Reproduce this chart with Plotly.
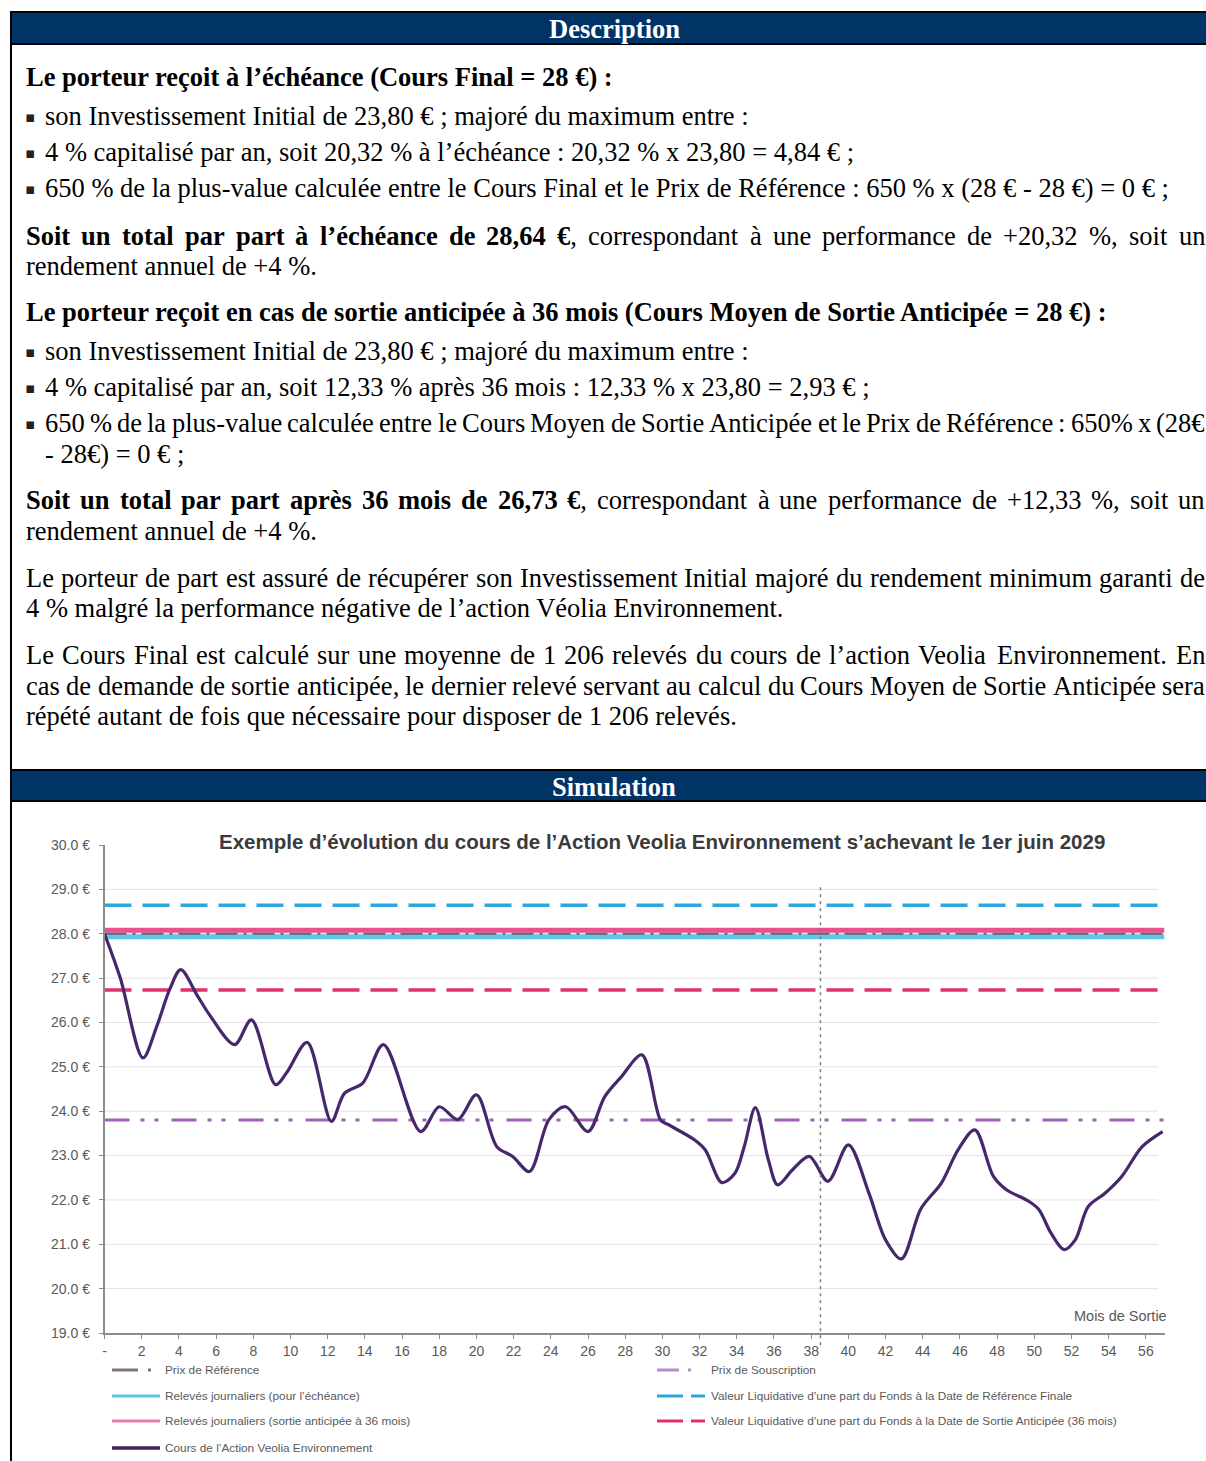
import unicodedata
import plotly.graph_objects as go

W, H = 1206, 1461

# ------------------------------------------------------------------ chart data
months = [0, 0.85, 2.07, 2.8, 3.5, 4.1, 5.0, 5.7, 7.0, 7.9, 9.2, 9.8, 10.9, 12.2,
          12.9, 13.9, 15.0, 17.0, 18.0, 19.0, 20.0, 21.1, 21.95, 22.85, 23.9, 24.8,
          26.0, 26.9, 27.8, 28.9, 29.9, 30.3, 31.7, 32.3, 33.2, 33.9, 34.4, 35.0,
          35.7, 36.2, 37.0, 37.9, 38.9, 40.0, 41.1, 42.0, 42.85, 43.9, 45.0, 45.9,
          46.8, 47.8, 48.5, 49.7, 50.25, 50.9, 51.6, 52.2, 52.9, 53.8, 54.7, 55.8, 56.9]
price = [28.0, 27.0, 25.2, 25.9, 26.74, 27.19, 26.6, 26.14, 25.5, 26.06, 24.6, 24.87,
         25.55, 23.77, 24.4, 24.64, 25.5, 23.54, 24.1, 23.81, 24.37, 23.2, 22.98, 22.64,
         23.81, 24.1, 23.54, 24.33, 24.78, 25.27, 23.8, 23.7, 23.36, 23.13, 22.39, 22.6,
         23.2, 24.08, 22.9, 22.34, 22.68, 22.98, 22.42, 23.24, 22.16, 21.1, 20.67, 21.8,
         22.38, 23.13, 23.58, 22.53, 22.23, 21.97, 21.78, 21.25, 20.88, 21.1, 21.85,
         22.15, 22.53, 23.2, 23.54]

level_months = [0, 57]
prix_reference = 28.0
releves_echeance = 27.93
releves_sortie = 28.08
prix_souscription = 23.80
vl_finale = 28.64
vl_sortie = 26.73
exit_month = 38.5
exit_line_top = 29.1

x_tickvals = list(range(0, 57, 2))
x_ticktext = ["-"] + [str(m) for m in range(2, 57, 2)]
y_tickvals = list(range(19, 31))
y_ticktext = [f"{v}.0 €" for v in range(19, 31)]
grid_vals = list(range(20, 30))

chart_title = "Exemple d’évolution du cours de l’Action Veolia Environnement s’achevant le 1er juin 2029"

# ------------------------------------------------------------------ document text
desc_lines = [
    (77, 25, [("Le porteur reçoit à l’échéance (Cours Final = 28 €) :", True)], False),
    (116, 44, [("son Investissement Initial de 23,80 € ; majoré du maximum entre :", False)], False),
    (152, 44, [("4 % capitalisé par an, soit 20,32 % à l’échéance : 20,32 % x 23,80 = 4,84 € ;", False)], False),
    (188, 44, [("650 % de la plus-value calculée entre le Cours Final et le Prix de Référence : 650 % x (28 € - 28 €) = 0 € ;", False)], False),
    (236, 25, [("Soit un total par part à l’échéance de 28,64 €", True),
               (", correspondant à une performance de +20,32 %, soit un", False)], True),
    (266, 25, [("rendement annuel de +4 %.", False)], False),
    (312, 25, [("Le porteur reçoit en cas de sortie anticipée à 36 mois (Cours Moyen de Sortie Anticipée = 28 €) :", True)], False),
    (351, 44, [("son Investissement Initial de 23,80 € ; majoré du maximum entre :", False)], False),
    (387, 44, [("4 % capitalisé par an, soit 12,33 % après 36 mois : 12,33 % x 23,80 = 2,93 € ;", False)], False),
    (423, 44, [("650 % de la plus-value calculée entre le Cours Moyen de Sortie Anticipée et le Prix de Référence : 650% x (28€", False)], True),
    (454, 44, [("- 28€) = 0 € ;", False)], False),
    (500, 25, [("Soit un total par part après 36 mois de 26,73 €", True),
               (", correspondant à une performance de +12,33 %, soit un", False)], True),
    (531, 25, [("rendement annuel de +4 %.", False)], False),
    (578, 25, [("Le porteur de part est assuré de récupérer son Investissement Initial majoré du rendement minimum garanti de", False)], True),
    (608, 25, [("4 % malgré la performance négative de l’action Véolia Environnement.", False)], False),
    (655, 25, [("Le Cours Final est calculé sur une moyenne de 1 206 relevés du cours de l’action Veolia Environnement. En", False)], True),
    (686, 25, [("cas de demande de sortie anticipée, le dernier relevé servant au calcul du Cours Moyen de Sortie Anticipée sera", False)], True),
    (716, 25, [("répété autant de fois que nécessaire pour disposer de 1 206 relevés.", False)], False),
]
bullet_ys = [116, 152, 188, 351, 387, 423]

legend_items = [
    # label, color, width, dash, column, row
    ("Prix de Référence", "#85746E", 3, "26px,10px,3px,40px", 0, 0),
    ("Relevés journaliers (pour l’échéance)", "#5BC6E2", 3, "solid", 0, 1),
    ("Relevés journaliers (sortie anticipée à 36 mois)", "#EA7FAE", 3, "solid", 0, 2),
    ("Cours de l’Action Veolia Environnement", "#3F2262", 3.5, "solid", 0, 3),
    ("Prix de Souscription", "#B58CC6", 3, "22px,9px,3px,40px", 1, 0),
    ("Valeur Liquidative d’une part du Fonds à la Date de Référence Finale", "#2AA5DD", 3, "26px,8px", 1, 1),
    ("Valeur Liquidative d’une part du Fonds à la Date de Sortie Anticipée (36 mois)", "#E0306F", 3, "26px,8px", 1, 2),
]

# ------------------------------------------------------------------ helpers
def X(px):
    return px / W


def Y(py):
    return 1 - py / H


_R = {' ': 250, '%': 833, '(': 333, ')': 333, '+': 564, ',': 250, '-': 333, '.': 250,
      ':': 278, ';': 278, '=': 564, '€': 500, '’': 333,
      'A': 722, 'B': 667, 'C': 667, 'D': 722, 'E': 611, 'F': 556, 'G': 722, 'H': 722,
      'I': 333, 'J': 389, 'K': 722, 'L': 611, 'M': 889, 'N': 722, 'O': 722, 'P': 556,
      'Q': 722, 'R': 667, 'S': 556, 'T': 611, 'U': 722, 'V': 722, 'W': 944, 'X': 722,
      'Y': 722, 'Z': 611, 'a': 444, 'b': 500, 'c': 444, 'd': 500, 'e': 444, 'f': 333,
      'g': 500, 'h': 500, 'i': 278, 'j': 278, 'k': 500, 'l': 278, 'm': 778, 'n': 500,
      'o': 500, 'p': 500, 'q': 500, 'r': 333, 's': 389, 't': 278, 'u': 500, 'v': 500,
      'w': 722, 'x': 500, 'y': 500, 'z': 444}
_B = {' ': 250, '%': 1000, '(': 333, ')': 333, '+': 570, ',': 250, '-': 333, '.': 250,
      ':': 333, ';': 333, '=': 570, '€': 500, '’': 333,
      'A': 722, 'B': 667, 'C': 722, 'D': 722, 'E': 667, 'F': 611, 'G': 778, 'H': 778,
      'I': 389, 'J': 500, 'K': 778, 'L': 667, 'M': 944, 'N': 722, 'O': 778, 'P': 611,
      'Q': 778, 'R': 722, 'S': 556, 'T': 667, 'U': 722, 'V': 722, 'W': 1000, 'X': 722,
      'Y': 722, 'Z': 667, 'a': 500, 'b': 556, 'c': 444, 'd': 556, 'e': 444, 'f': 333,
      'g': 500, 'h': 556, 'i': 278, 'j': 333, 'k': 556, 'l': 278, 'm': 833, 'n': 556,
      'o': 500, 'p': 556, 'q': 556, 'r': 444, 's': 389, 't': 333, 'u': 556, 'v': 500,
      'w': 722, 'x': 500, 'y': 500, 'z': 444}

FS = 26.5
SERIF = "Liberation Serif, Times New Roman, serif"
SANS = "Liberation Sans, Arial, sans-serif"


def text_w(s, bold):
    tab = _B if bold else _R
    tot = 0
    for ch in s:
        if ch.isdigit():
            tot += 500
            continue
        base = unicodedata.normalize('NFD', ch)[0]
        tot += tab.get(ch, tab.get(base, 500))
    return tot * FS / 1000.0


def markup(pieces):
    return "".join(f"<b>{t}</b>" if b else t for t, b in pieces)


def split_words(segments):
    words, cur = [], []
    for text, bold in segments:
        parts = text.split(' ')
        for i, p in enumerate(parts):
            if i > 0 and cur:
                words.append(cur)
                cur = []
            if p:
                cur.append((p, bold))
    if cur:
        words.append(cur)
    return words


annotations = []
shapes = []


def add_text(x, y, text, size=FS, color="black", family=SERIF, xanchor="left"):
    annotations.append(dict(x=X(x), y=Y(y), xref="paper", yref="paper", text=text,
                            showarrow=False, xanchor=xanchor, yanchor="middle",
                            borderpad=0, font=dict(family=family, size=size, color=color)))


# ------------------------------------------------------------------ document frame
NAVY = "#003366"
for (top, bot, label) in [(12, 44, "Description"), (770, 801, "Simulation")]:
    shapes.append(dict(type="rect", xref="paper", yref="paper", x0=X(11), x1=X(W),
                       y0=Y(bot), y1=Y(top), fillcolor=NAVY, line=dict(width=0)))
    for yy in (top, bot):
        shapes.append(dict(type="line", xref="paper", yref="paper", x0=X(10), x1=X(W),
                           y0=Y(yy), y1=Y(yy), line=dict(color="black", width=2)))
    add_text(614, (top + bot) / 2 + 1, f"<b>{label}</b>", color="white", xanchor="center")

shapes.append(dict(type="line", xref="paper", yref="paper", x0=X(11), x1=X(11),
                   y0=0, y1=Y(11), line=dict(color="black", width=2)))

# ------------------------------------------------------------------ document text
RIGHT = 1204
for (yy, x0, segs, justify) in desc_lines:
    if not justify:
        add_text(x0, yy, markup(segs))
        continue
    words = split_words(segs)
    widths = [sum(text_w(t, b) for t, b in w) for w in words]
    gap = (RIGHT - x0 - sum(widths)) / (len(words) - 1)
    cx = x0
    for w, wd in zip(words, widths):
        add_text(cx, yy, markup(w))
        cx += wd + gap

for yy in bullet_ys:
    add_text(29.5, yy + 1, "▪", size=15, family="DejaVu Sans", color="#222222", xanchor="center")

# ------------------------------------------------------------------ chart
PLOT_L, PLOT_R, PLOT_T, PLOT_B = 104.5, 1164.5, 845, 1333
fig = go.Figure()

for v in grid_vals:
    shapes.append(dict(type="line", xref="x domain", yref="y", x0=0, x1=0.994, y0=v, y1=v,
                       line=dict(color="#E2E2E2", width=1), layer="below"))


def level_trace(level, color, width, dash, name):
    fig.add_trace(go.Scatter(x=level_months, y=[level, level], mode="lines", name=name,
                             line=dict(color=color, width=width, dash=dash),
                             hoverinfo="skip", showlegend=False))


level_trace(prix_souscription, "#9E62B4", 3, "25px,11px,4px,10px,4px,13px", "Prix de Souscription")
level_trace(vl_sortie, "#E0306F", 3.5, "27px,11px", "VL sortie anticipée")
level_trace(vl_finale, "#2AA7DE", 3.5, "27px,11px", "VL finale")
level_trace(releves_echeance, "#5EC6E6", 5, "solid", "Relevés échéance")
level_trace(releves_sortie, "#E8508F", 5, "solid", "Relevés sortie")
level_trace(prix_reference, "#6E5E6E", 2, "22px,6px,3px,6px", "Prix de Référence")

fig.add_trace(go.Scatter(x=months, y=price, mode="lines", name="Cours",
                         line=dict(color="#46276B", width=3.2, shape="spline", smoothing=0.9),
                         hoverinfo="skip", showlegend=False))

# vertical exit line (dotted), extends slightly below the axis
shapes.append(dict(type="line", xref="x", yref="y domain", x0=exit_month, x1=exit_month,
                   y0=-0.025, y1=(exit_line_top - 19) / (30 - 19),
                   line=dict(color="#7F7F7F", width=1.5, dash="3px,4px")))

# chart title & axis note
add_text(662, 841, f"<b>{chart_title}</b>", size=20.5, family=SANS, color="#3A3A3A", xanchor="center")
add_text(1168, 1316, "Mois de Sortie", size=14.5, family=SANS, color="#595959", xanchor="right")

# manual legend
col_x = [(112, 160, 164), (657, 705, 710)]
row_y = [1370, 1396, 1421, 1448]
for label, color, width, dash, col, row in legend_items:
    lx0, lx1, tx = col_x[col]
    yy = row_y[row]
    shapes.append(dict(type="line", xref="paper", yref="paper", x0=X(lx0), x1=X(lx1),
                       y0=Y(yy), y1=Y(yy), line=dict(color=color, width=width, dash=dash)))
    add_text(tx, yy, label, size=11.8, family=SANS, color="#595959")

axis_col = "#8C8C8C"
fig.update_layout(
    template="none",
    width=W, height=H, autosize=False,
    margin=dict(l=0, r=0, t=0, b=0, pad=0, autoexpand=False),
    paper_bgcolor="white", plot_bgcolor="white",
    showlegend=False,
    shapes=shapes, annotations=annotations,
    xaxis=dict(domain=[X(PLOT_L), X(PLOT_R)], range=[0, 57], tickvals=x_tickvals,
               ticktext=x_ticktext, ticks="outside", ticklen=4, tickcolor=axis_col,
               showline=True, linecolor=axis_col, linewidth=1.5, showgrid=False,
               zeroline=False, automargin=False,
               tickfont=dict(family=SANS, size=14, color="#595959")),
    yaxis=dict(domain=[Y(PLOT_B), Y(PLOT_T)], range=[19, 30], tickvals=y_tickvals,
               ticktext=y_ticktext, ticks="outside", ticklen=4, tickcolor=axis_col,
               showline=True, linecolor=axis_col, linewidth=1.5, showgrid=False,
               zeroline=False, ticklabelstandoff=6, automargin=False,
               tickfont=dict(family=SANS, size=14, color="#595959")),
)

page_fix = ("document.documentElement.style.margin='0';document.body.style.margin='0';"
            "document.body.style.padding='0';document.body.style.overflow='hidden';"
            "document.documentElement.style.overflow='hidden';"
            "var d=document.getElementById('{plot_id}');"
            "d.style.position='absolute';d.style.left='0px';d.style.top='0px';")

fig.write_html("out.html", include_plotlyjs=True, config={"displayModeBar": False},
               post_script=page_fix)
